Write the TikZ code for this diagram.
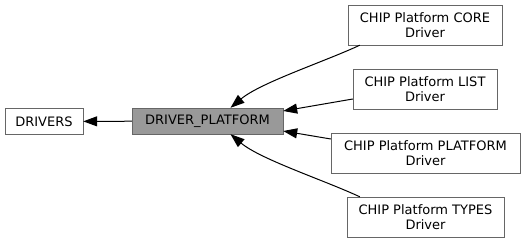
\documentclass[tikz,border=0pt]{standalone}
\usepackage{fontspec}
\setmainfont{DejaVu Sans}
\usepackage{tikz}
\usetikzlibrary{arrows.meta}

\begin{document}
\begin{tikzpicture}[x=1pt, y=1pt, every node/.style={rectangle, draw=black!60, fill=white, inner sep=2pt, font=\fontsize{13}{15.5}\selectfont, align=center},
    grp/.style={minimum height=26pt},
    sub/.style={minimum height=40pt},
    edge/.style={-{Triangle[length=14pt, width=10pt]}, line width=1pt}]
    \useasboundingbox (0,0) rectangle (525,243);
    \node[grp, minimum width=78pt] (drivers) at (44,121.5) {DRIVERS};
    \node[grp, minimum width=151pt, fill=black!40] (platform) at (207.5,122) {DRIVER\_PLATFORM};
    \node[sub, minimum width=154pt] (core) at (425,218) {CHIP Platform CORE\\Driver};
    \node[sub, minimum width=144pt] (list) at (425,154) {CHIP Platform LIST\\Driver};
    \node[sub, minimum width=189pt] (plat) at (425.5,90) {CHIP Platform PLATFORM\\Driver};
    \node[sub, minimum width=157pt] (types) at (425.5,26) {CHIP Platform TYPES\\Driver};

    \draw[edge] (platform) -- (drivers);
    \draw[edge] ([xshift=12pt]core.south west) to[out=205, in=40, looseness=0.7] ([xshift=23pt]platform.north);
    \draw[edge] ([yshift=-10pt]list.west) -- ([yshift=10pt]platform.east);
    \draw[edge] ([yshift=14pt]plat.west) -- ([yshift=-10pt]platform.east);
    \draw[edge] ([xshift=13pt]types.north west) to[out=155, in=-40, looseness=0.7] ([xshift=23pt]platform.south);
\end{tikzpicture}
\end{document}
